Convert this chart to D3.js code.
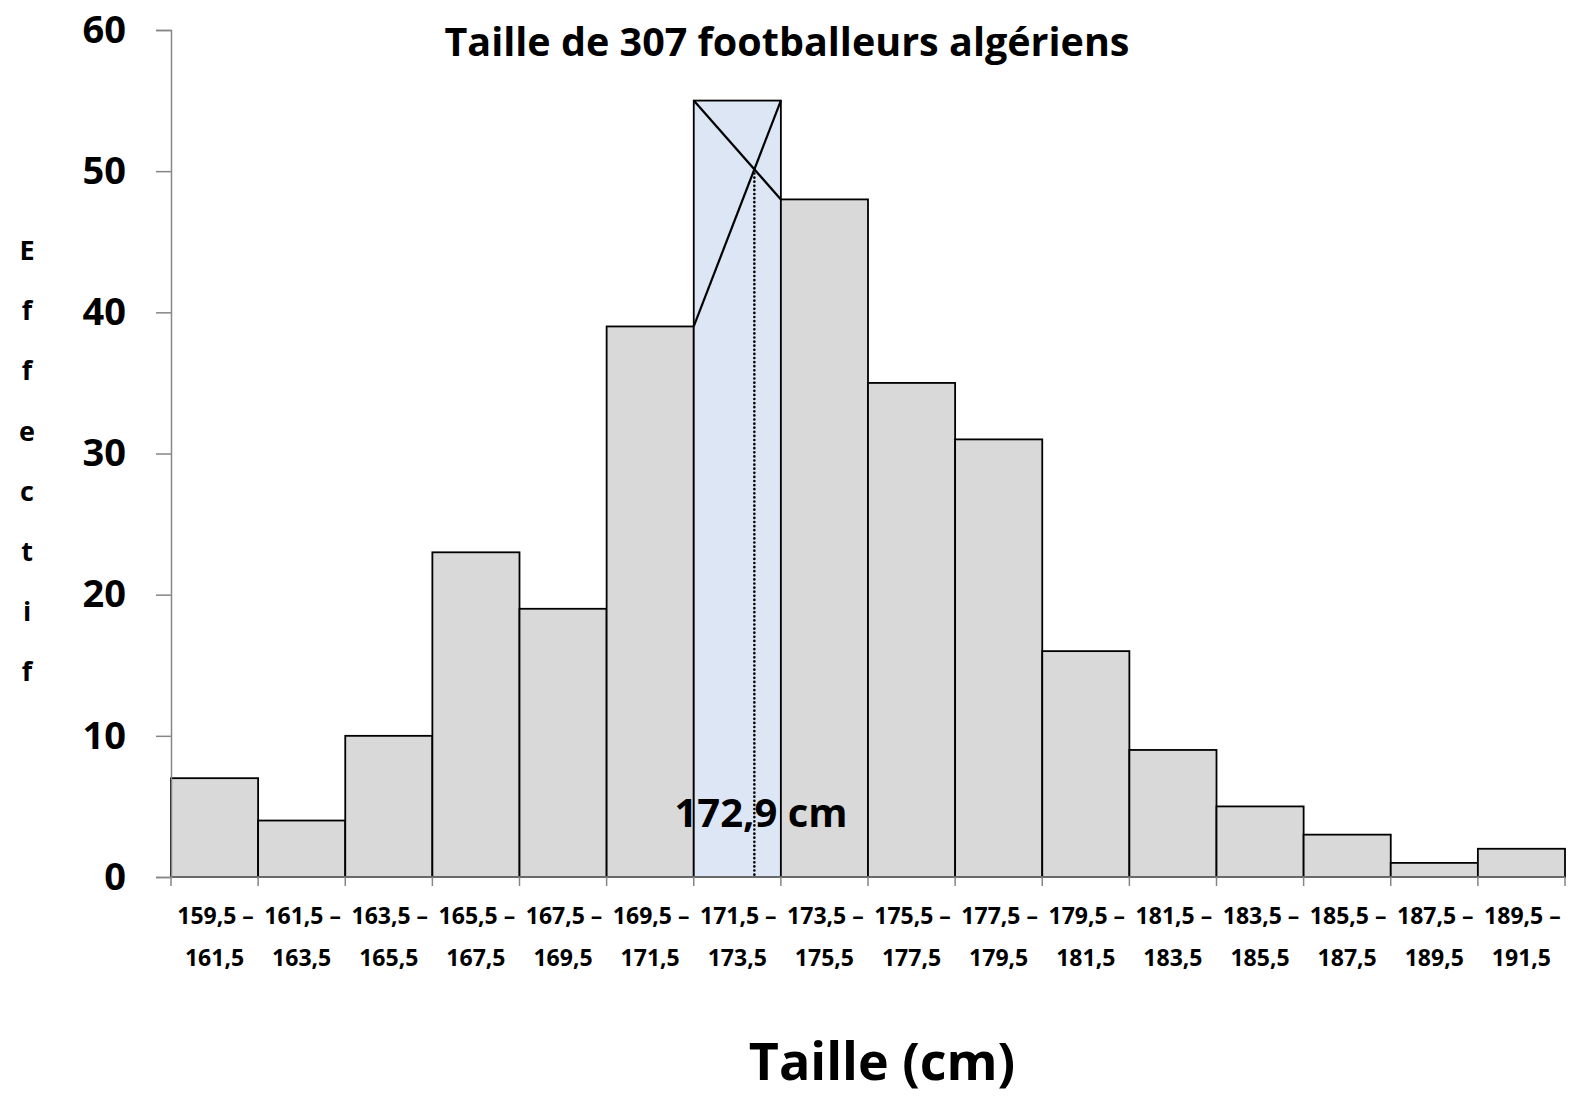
<!DOCTYPE html>
<html><head><meta charset="utf-8">
<script src="https://cdn.jsdelivr.net/npm/d3@7"></script>
<style>body{margin:0;background:#fff}svg{display:block}text{font-family:"Open Sans",sans-serif;font-weight:bold;fill:#000}</style>
</head><body>
<script>
const binStarts = ["159,5","161,5","163,5","165,5","167,5","169,5","171,5","173,5","175,5","177,5","179,5","181,5","183,5","185,5","187,5","189,5"];
const binEnds = ["161,5","163,5","165,5","167,5","169,5","171,5","173,5","175,5","177,5","179,5","181,5","183,5","185,5","187,5","189,5","191,5"];
const counts = [7,4,10,23,19,39,55,48,35,31,16,9,5,3,1,2];
const yTicks = [0,10,20,30,40,50,60];
const modeIndex = 6;
const modeLabel = "172,9 cm";
const title = "Taille de 307 footballeurs algériens";
const xTitle = "Taille (cm)";
const yTitle = "Effectif";

const W = 1572, H = 1098;
const mLeft = 171, mRight = 1565, mTop = 30, mBottom = 877;
const svg = d3.select("body").append("svg").attr("width", W).attr("height", H);

const x = d3.scaleBand().domain(d3.range(counts.length)).range([mLeft, mRight]).padding(0);
const y = d3.scaleLinear().domain([0, 60]).range([mBottom, mTop]);

// bars
svg.append("g").selectAll("rect").data(counts).join("rect")
  .attr("x", (d,i) => x(i)).attr("y", d => y(d))
  .attr("width", x.bandwidth()).attr("height", d => y(0) - y(d))
  .attr("fill", (d,i) => i === modeIndex ? "#dce6f4" : "#d9d9d9")
  .attr("stroke", "#000").attr("stroke-width", 1.8);

// y axis
const yAxis = svg.append("g").attr("transform", `translate(${mLeft},0)`)
  .call(d3.axisLeft(y).tickValues(yTicks).tickSize(15).tickPadding(30));
yAxis.select(".domain").attr("stroke", "#868686").attr("stroke-width", 1.5);
yAxis.selectAll(".tick line").attr("stroke", "#868686").attr("stroke-width", 1.5);
yAxis.selectAll(".tick text").style("font-size", "38px").attr("fill", "#000");

// x axis
const xEdge = d3.scaleLinear().domain([0, counts.length]).range([mLeft, mRight]);
const xg = svg.append("g");
xg.append("line").attr("x1", mLeft).attr("x2", mRight).attr("y1", mBottom).attr("y2", mBottom)
  .attr("stroke", "#868686").attr("stroke-width", 1.5);
xg.selectAll("line.t").data(d3.range(counts.length + 1)).join("line").attr("class","t")
  .attr("x1", d => xEdge(d)).attr("x2", d => xEdge(d)).attr("y1", mBottom).attr("y2", mBottom + 9)
  .attr("stroke", "#868686").attr("stroke-width", 1.5);
const lab = xg.selectAll("text").data(counts).join("text")
  .attr("text-anchor", "middle").style("font-size", "23px");
lab.append("tspan").attr("x", (d,i) => x(i) + x.bandwidth()/2 + 1).attr("y", 924).text((d,i) => binStarts[i] + " –");
lab.append("tspan").attr("x", (d,i) => x(i) + x.bandwidth()/2).attr("y", 966).text((d,i) => binEnds[i]);

// mode construction
const xl = x(modeIndex), xr = x(modeIndex) + x.bandwidth();
const prev = counts[modeIndex-1], cur = counts[modeIndex], next = counts[modeIndex+1];
svg.append("line").attr("x1", xl).attr("y1", y(prev)).attr("x2", xr).attr("y2", y(cur))
  .attr("stroke", "#000").attr("stroke-width", 2.2);
svg.append("line").attr("x1", xl).attr("y1", y(cur)).attr("x2", xr).attr("y2", y(next))
  .attr("stroke", "#000").attr("stroke-width", 2.2);
const d1 = cur - prev, d2 = cur - next;
const t = d1 / (d1 + d2);
const xm = xl + t * (xr - xl);
const ym = y(prev) + t * (y(cur) - y(prev));
svg.append("line").attr("x1", xm).attr("x2", xm).attr("y1", ym).attr("y2", mBottom)
  .attr("stroke", "#000").attr("stroke-width", 2.6).attr("stroke-linecap", "round").attr("stroke-dasharray", "0.1,4");

svg.append("text").attr("x", 761).attr("y", 827).attr("text-anchor", "middle")
  .style("font-size", "40px").text(modeLabel);

// titles
svg.append("text").attr("x", 787).attr("y", 56).attr("text-anchor", "middle")
  .style("font-size", "39.5px").text(title);
svg.append("text").attr("x", 882).attr("y", 1080).attr("text-anchor", "middle")
  .style("font-size", "52px").text(xTitle);
svg.append("g").selectAll("text").data(yTitle.split("")).join("text")
  .attr("x", 27).attr("y", (d,i) => 260 + i * 60.2).attr("text-anchor", "middle")
  .style("font-size", "27px").text(d => d);
</script>
</body></html>
